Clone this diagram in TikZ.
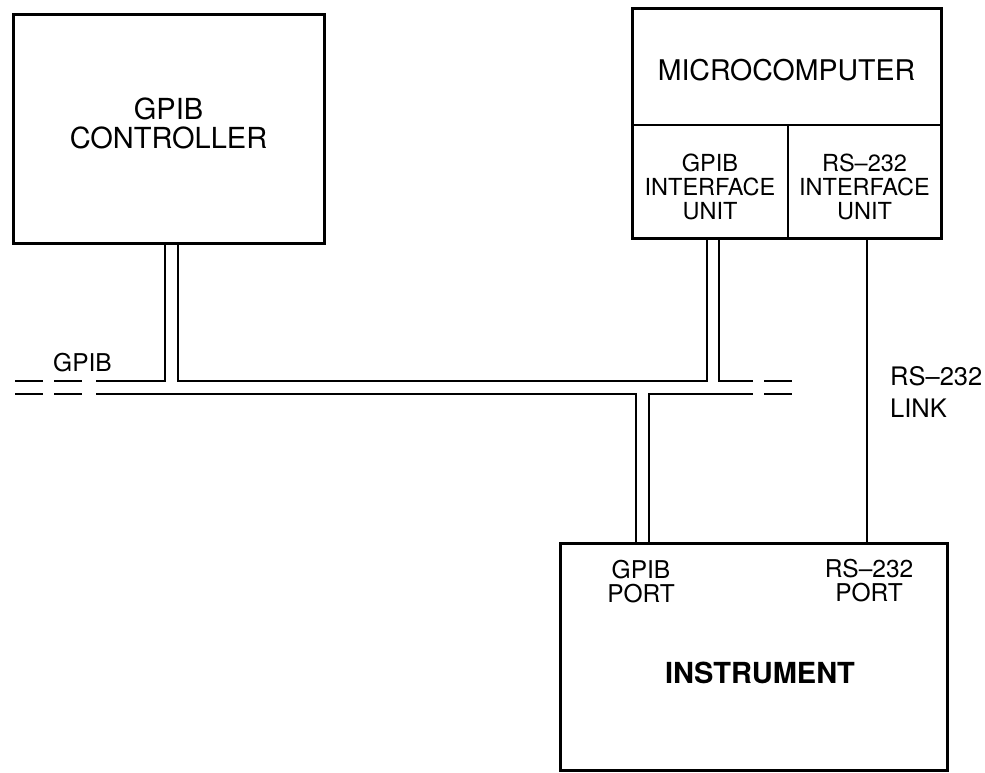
\documentclass[tikz,border=0pt]{standalone}
\usepackage{fontspec}
\setmainfont{TeX Gyre Heros}
\begin{document}
\begin{tikzpicture}[x=1pt,y=-1pt,
  thickbox/.style={draw=black,line width=3pt,inner sep=0pt,outer sep=0pt},
  wire/.style={draw=black,line width=1.7pt},
  divider/.style={draw=black,line width=1.4pt},
  lbl/.style={inner sep=0pt,align=center},
  fA/.style={font=\fontsize{29}{29}\selectfont},
  fB/.style={font=\fontsize{28.5}{30}\selectfont},
  fC/.style={font=\fontsize{23.5}{24}\selectfont},
  fD/.style={font=\fontsize{24.5}{24}\selectfont},
  fE/.style={font=\bfseries\fontsize{29}{30}\selectfont}]
\useasboundingbox (0,0) rectangle (985,772);
% boxes
\node[thickbox,minimum width=311pt,minimum height=229pt] (ctrl) at (168.5,128.5) {};
\node[thickbox,minimum width=309pt,minimum height=230pt] (micro) at (786.5,123) {};
\node[thickbox,minimum width=387pt,minimum height=227pt] (inst) at (753.5,656.5) {};
% microcomputer dividers
\coordinate (dl) at (632,125);
\coordinate (dr) at (941,125);
\coordinate (dm) at (788,125);
\coordinate (db) at (788,238);
\draw[divider] (dl) -- (dr);
\draw[divider] (dm) -- (db);
% texts
\node[lbl,fA] (ctrltext) at (168.5,123) {GPIB\\CONTROLLER};
\node[lbl,fB] (mctext) at (786.5,70) {MICROCOMPUTER};
\node[lbl,fC] (gpibif) at (710,187) {GPIB\\INTERFACE\\UNIT};
\node[lbl,fC] (rsif) at (864.5,187) {RS--232\\INTERFACE\\UNIT};
\node[lbl,fD] (gport) at (641,582) {GPIB\\PORT};
\node[lbl,fD] (rport) at (869,581) {RS--232\\PORT};
\node[lbl,fE] (insttext) at (760,673) {INSTRUMENT};
\node[lbl,fD,anchor=west] (gpiblbl) at (53,363) {GPIB};
\node[lbl,anchor=west,align=left,font=\fontsize{25.5}{32}\selectfont] (linklbl) at (890,392) {RS--232\\LINK};
% bus coordinates
\coordinate (ca) at (165,243);
\coordinate (cb) at (178,243);
\coordinate (ma) at (707,238);
\coordinate (mb) at (719,238);
\coordinate (ia) at (636,543);
\coordinate (ib) at (649,543);
\coordinate (ra) at (867,238);
\coordinate (rb) at (867,543);
\coordinate (tl) at (96,381);
\coordinate (bl) at (96,394);
\coordinate (tr) at (753,381);
\coordinate (br) at (753,394);
% controller stub and top bus line
\draw[wire] (tl) -- (ca |- tl) -- (ca);
\draw[wire] (cb) -- (cb |- tl) -- (ma |- tl) -- (ma);
\draw[wire] (mb) -- (mb |- tl) -- (tr);
% bottom bus line and instrument stub
\draw[wire] (bl) -- (ia |- bl) -- (ia);
\draw[wire] (ib) -- (ib |- bl) -- (br);
% broken bus ends
\coordinate (l1a) at (15,381); \coordinate (l1b) at (43,381);
\coordinate (l2a) at (54,381); \coordinate (l2b) at (82,381);
\coordinate (l3a) at (15,394); \coordinate (l3b) at (43,394);
\coordinate (l4a) at (54,394); \coordinate (l4b) at (82,394);
\coordinate (r1a) at (764,381); \coordinate (r1b) at (792,381);
\coordinate (r2a) at (764,394); \coordinate (r2b) at (792,394);
\draw[wire] (l1a) -- (l1b);
\draw[wire] (l2a) -- (l2b);
\draw[wire] (l3a) -- (l3b);
\draw[wire] (l4a) -- (l4b);
\draw[wire] (r1a) -- (r1b);
\draw[wire] (r2a) -- (r2b);
% RS-232 link
\draw[wire] (ra) -- (rb);
\end{tikzpicture}
\end{document}
